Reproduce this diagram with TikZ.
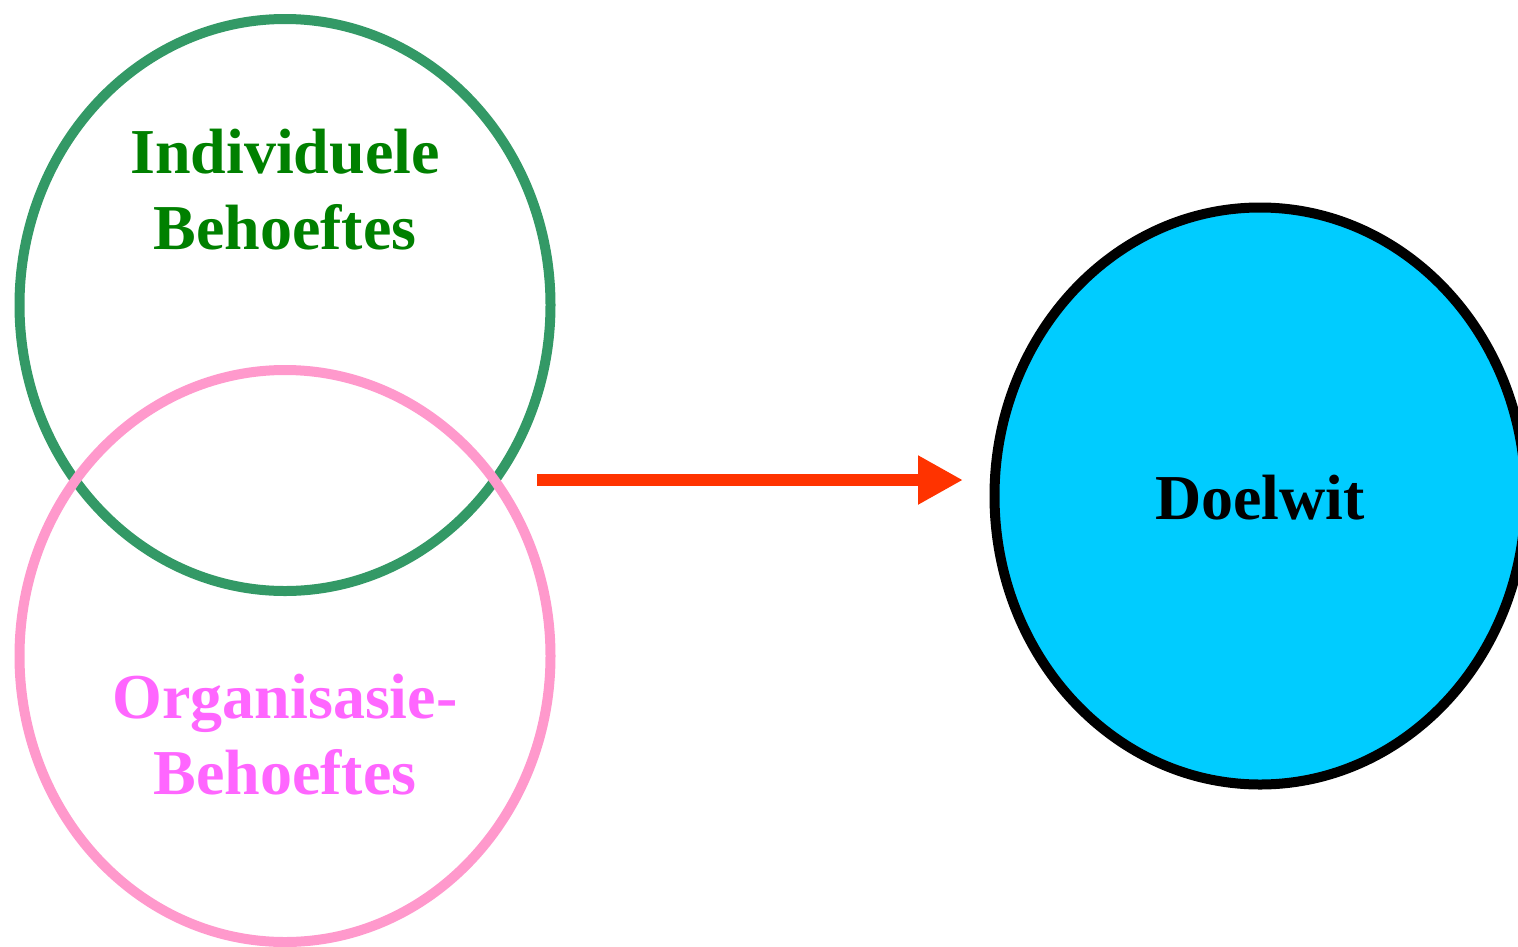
\documentclass[tikz,border=0pt]{standalone}
\usepackage{fontspec}
\setmainfont{Liberation Serif}
\usetikzlibrary{shapes.geometric,arrows.meta}
\definecolor{ringgreen}{HTML}{339966}
\definecolor{textgreen}{HTML}{008000}
\definecolor{ringpink}{HTML}{FF99CC}
\definecolor{textpink}{HTML}{FF66FF}
\definecolor{goalblue}{HTML}{00CCFF}
\definecolor{arrowred}{HTML}{FF3300}
\tikzset{
  ring/.style={ellipse, minimum width=531pt, minimum height=572pt, line width=10pt, inner sep=0pt},
  lbl/.style={anchor=base, font=\fontsize{64}{75}\selectfont\bfseries, inner sep=0pt},
}
\begin{document}
\begin{tikzpicture}[x=1pt,y=-1pt]
\useasboundingbox (0,0) rectangle (1518,946);
\node[ring, draw=ringgreen] (ind) at (285,305) {};
\node[ring, draw=ringpink] (org) at (285,656) {};
\node[ring, draw=black, fill=goalblue, minimum height=577pt] (goal) at (1260,496) {};
\node[lbl, text=textgreen] (ind1) at (285,173) {Individuele};
\node[lbl, text=textgreen] (ind2) at (285,249) {Behoeftes};
\node[lbl, text=textpink] (org1) at (285,718) {Organisasie-};
\node[lbl, text=textpink] (org2) at (285,794) {Behoeftes};
\node[lbl, text=black] (goalt) at (1260,519) {Doelwit};
\coordinate (as) at (537,480);
\coordinate (ae) at (963,480);
\draw[arrowred, line width=12pt, -{Triangle[length=45pt,width=46pt]}] (as) -- (ae);
\end{tikzpicture}
\end{document}
